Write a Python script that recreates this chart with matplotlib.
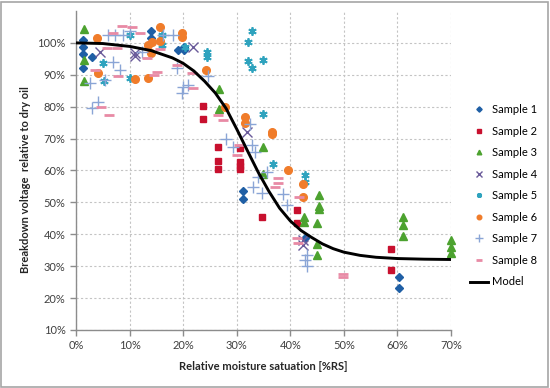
import matplotlib
matplotlib.use("Agg")
import matplotlib.pyplot as plt
from matplotlib.ticker import PercentFormatter
from matplotlib.patches import Rectangle

plt.rcParams['font.family'] = ['Lato', 'DejaVu Sans']

# ---- data (percent) ----
s1_x = [1.3, 1.3, 1.3, 1.3, 3.0, 14.0, 14.0, 20.2, 20.2, 19.0, 31.2, 31.2, 42.7, 60.3, 60.3]
s1_y = [100.9, 98.7, 96.6, 92.2, 95.6, 103.8, 101.6, 98.7, 97.8, 97.8, 53.6, 51.1, 38.9, 26.6, 23.2]

s2_x = [23.7, 23.7, 26.5, 26.5, 26.5, 30.6, 30.6, 30.6, 30.6, 34.7, 41.3, 41.3, 58.8, 58.8]
s2_y = [80.2, 76.2, 67.4, 63.0, 60.5, 67.1, 62.7, 61.4, 60.5, 45.4, 47.6, 43.6, 35.4, 28.8]

s3_x = [1.5, 1.5, 1.5, 26.7, 26.7, 34.9, 34.9, 45.4, 45.4, 45.4, 42.6, 42.6, 45.0, 45.0, 45.0,
        61.0, 61.0, 61.0, 70.0, 70.0, 70.0]
s3_y = [104.4, 94.7, 88.1, 85.6, 79.3, 67.4, 58.9, 52.3, 48.9, 47.9, 45.4, 43.9, 43.6, 37.0, 33.5,
        45.4, 42.9, 39.5, 38.2, 36.0, 34.1]

s4_x = [4.5, 11.0, 11.0, 21.8, 31.9, 42.4, 42.4]
s4_y = [97.2, 96.9, 95.9, 98.7, 72.1, 38.2, 36.7]

s5_x = [10.1, 5.0, 5.2, 10.1, 16.1, 16.1, 20.3, 24.5, 24.5, 32.9, 32.1, 32.1, 32.9, 34.9, 34.9,
        36.8, 42.7, 42.7]
s5_y = [102.5, 93.7, 88.1, 89.0, 102.5, 99.4, 98.7, 97.2, 95.6, 103.8, 100.3, 94.4, 92.2, 94.7, 77.7,
        62.1, 58.6, 56.4]

s6_x = [3.9, 4.1, 11.0, 13.4, 13.4, 14.2, 14.0, 15.7, 15.7, 19.8, 19.8, 24.3, 27.8, 31.5, 31.5,
        36.6, 36.6, 39.6, 42.4, 42.4]
s6_y = [101.6, 90.6, 88.7, 89.0, 99.4, 100.3, 96.9, 105.0, 100.6, 103.1, 101.9, 91.5, 79.9, 76.8, 74.9,
        72.1, 71.5, 60.2, 55.8, 51.7]

s7_x = [3.0, 4.1, 2.6, 5.4, 6.9, 8.2, 6.0, 7.3, 8.8, 10.1, 12.3, 16.2, 18.1, 18.9, 20.0, 20.9, 19.8,
        24.6, 28.0, 29.3, 32.5, 32.9, 33.4, 34.0, 33.0, 34.7, 35.7, 38.6, 39.4, 43.1, 42.7, 43.1]
s7_y = [79.6, 81.5, 87.5, 88.4, 94.0, 91.5, 102.5, 102.5, 102.5, 103.8, 97.2, 102.5, 102.5, 92.2, 86.2,
        86.8, 84.3, 89.7, 69.9, 67.4, 74.6, 68.0, 65.8, 58.0, 54.8, 53.0, 59.5, 52.7, 49.2, 33.5, 32.0, 30.1]

s8_x = [8.6, 10.5, 11.9, 6.9, 5.8, 7.7, 3.5, 7.8, 4.7, 6.2, 13.3, 15.1, 14.6, 15.7, 18.9, 21.8, 21.7,
        26.5, 27.4, 30.4, 30.1, 37.7, 37.7, 37.1, 41.6, 41.3, 41.4, 49.8, 49.8]
s8_y = [105.3, 105.0, 103.1, 103.1, 98.4, 98.4, 91.5, 89.7, 79.9, 77.4, 95.3, 90.9, 90.0, 98.1, 93.1,
        85.9, 90.6, 77.4, 75.9, 68.0, 64.9, 57.7, 56.1, 54.8, 51.7, 38.9, 37.3, 27.6, 26.6]

model_x = [0, 5, 10, 14, 18, 20, 22, 24, 26, 28, 30, 32, 34, 36, 38, 40, 42, 44, 46, 48, 50,
           53, 56, 60, 65, 70]
model_y = [100, 99.8, 98.9, 97.6, 95.3, 93.6, 91.2, 88.0, 84.3, 79.5, 73.0, 66.2, 59.5, 53.5, 48.2,
           44.2, 41.2, 39.0, 37.0, 35.5, 34.4, 33.4, 32.8, 32.4, 32.2, 32.1]

x_ticks = [0, 10, 20, 30, 40, 50, 60, 70]
y_ticks = [10, 20, 30, 40, 50, 60, 70, 80, 90, 100]

series = [
    ("Sample 1", s1_x, s1_y, dict(marker='D', color='#1F5FA5', ms=4.5, mec='#1F5FA5')),
    ("Sample 2", s2_x, s2_y, dict(marker='s', color='#C8102E', ms=4.8, mec='#C8102E')),
    ("Sample 3", s3_x, s3_y, dict(marker='^', color='#4CA22F', ms=5.5, mec='#4CA22F')),
    ("Sample 4", s4_x, s4_y, dict(marker='x', color='#6A5B9A', ms=7, mew=1.0)),
    ("Sample 5", s5_x, s5_y, dict(marker=(6, 2, 0), color='#2FA3BE', ms=6, mew=1.3)),
    ("Sample 6", s6_x, s6_y, dict(marker='o', color='#F07C2A', ms=5.5, mec='#F07C2A')),
    ("Sample 7", s7_x, s7_y, dict(marker='+', color='#8AA5D6', ms=9, mew=1.0)),
    ("Sample 8", s8_x, s8_y, dict(marker='_', color='#E88AA5', ms=6.5, mew=2.0)),
]

fig = plt.figure(figsize=(5.5, 3.88), dpi=100)
ax = fig.add_axes([76/550, 1-330/388, (451-76)/550, (330-11)/388])

for name, xs, ys, st in series:
    ax.plot(xs, ys, linestyle='none', label=name, zorder=3, clip_on=False, **st)

ax.plot(model_x, model_y, color='black', lw=2.1, label='Model', zorder=4)

ax.set_xlim(0, 70)
ax.set_ylim(10, 110)
ax.set_xticks(x_ticks)
ax.set_yticks(y_ticks)
ax.xaxis.set_major_formatter(PercentFormatter(100, decimals=0))
ax.yaxis.set_major_formatter(PercentFormatter(100, decimals=0))
ax.grid(True, color='#C4C4C4', linestyle=(0, (2, 2)), lw=0.8, zorder=0)
ax.set_axisbelow(True)
for s in ['top', 'right']:
    ax.spines[s].set_visible(False)
for s in ['left', 'bottom']:
    ax.spines[s].set_color('#8C8C8C')
    ax.spines[s].set_linewidth(1.0)
ax.tick_params(axis='both', colors='#8C8C8C', labelcolor='#404040', labelsize=8,
               length=4, width=1, direction='out')

fig.text(26/550, 1-180/388, 'Breakdown voltage  relative to dry oil', rotation=90,
         ha='center', va='center', fontsize=8, fontweight='bold', color='#262626')
fig.text(263/550, 1-366/388, 'Relative moisture satuation [%RS]',
         ha='center', va='center', fontsize=8, fontweight='bold', color='#262626')

leg = ax.legend(loc='upper left', bbox_to_anchor=(460/550, 1-94/388), bbox_transform=fig.transFigure,
                frameon=False, fontsize=8, markerscale=0.6, handlelength=1.6,
                labelspacing=0.95, handletextpad=0.4)

fig.patches.append(Rectangle((0.002, 0.003), 0.995, 0.993, transform=fig.transFigure,
                             fill=False, edgecolor='#A6A6A6', lw=1.2))

fig.savefig('out.png', dpi=100)
